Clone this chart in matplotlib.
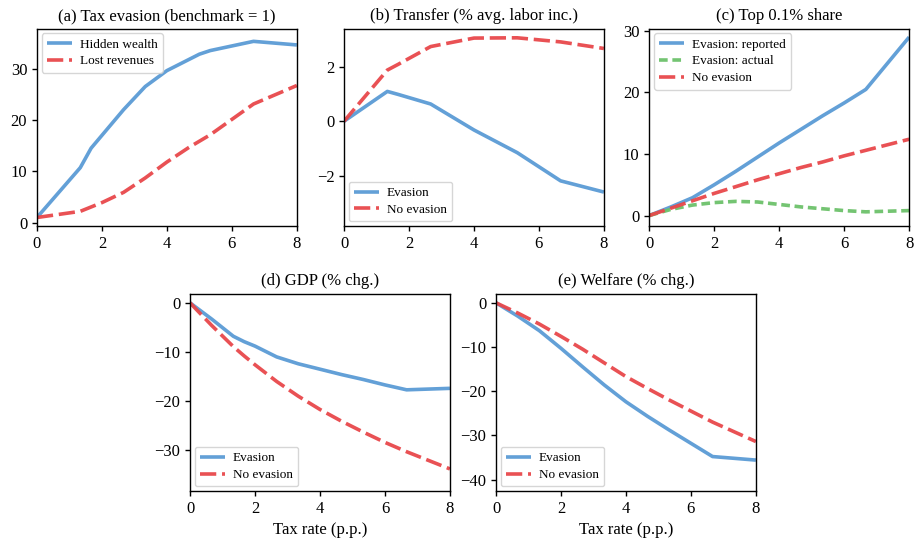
"""
Tax-evasion counterfactuals: five small panels vs. the tax rate (p.p.).
"""
import numpy as np
import matplotlib
matplotlib.use("Agg")
import matplotlib.pyplot as plt

plt.rcParams["font.family"] = ["Liberation Serif", "DejaVu Serif"]
plt.rcParams["font.size"] = 12

BLUE = "#5b9bd5"
RED = "#e8484b"
GREEN = "#6cc16a"

# ── data ──────────────────────────────────────────────────────────────────
# (a) tax evasion, benchmark = 1
x_a = [0, 1.333, 1.667, 2.667, 3.333, 4, 5, 5.333, 6.667, 8]
hidden_wealth = [1.0, 10.7, 14.5, 22.0, 26.5, 29.6, 32.8, 33.5, 35.3, 34.6]
x_a2 = [0, 1.333, 2, 2.667, 3.333, 4, 4.667, 5.333, 6, 6.667, 8]
lost_revenues = [1.0, 2.2, 3.9, 5.9, 8.7, 11.8, 14.6, 17.1, 20.1, 23.1, 26.7]

# (b) transfer, % avg. labor income
x_b = [0, 1.333, 1.667, 2.667, 4, 5.333, 6.667, 8]
transfer_ev = [0.0, 1.09, 0.98, 0.63, -0.32, -1.15, -2.18, -2.59]
transfer_noev = [0.0, 1.87, 2.08, 2.73, 3.04, 3.05, 2.9, 2.66]

# (c) top 0.1% share
x_c = [0, 0.667, 1.333, 2, 2.667, 3.333, 4, 4.667, 5.333, 6, 6.667, 8]
top_reported = [0.0, 1.4, 2.9, 5.0, 7.2, 9.5, 11.8, 14.0, 16.2, 18.3, 20.5, 29.0]
top_actual = [0.0, 1.0, 1.7, 2.1, 2.3, 2.2, 1.8, 1.4, 1.1, 0.8, 0.6, 0.8]
top_noev = [0.0, 1.2, 2.4, 3.6, 4.7, 5.8, 6.8, 7.8, 8.7, 9.7, 10.6, 12.4]

# (d) GDP, % change
x_d = [0, 0.667, 1.333, 1.667, 2, 2.667, 3.333, 4, 4.667, 5.333, 6, 6.667, 8]
gdp_ev = [0.0, -3.3, -6.8, -7.9, -8.8, -11.0, -12.4, -13.5, -14.6, -15.6, -16.7, -17.7, -17.4]
gdp_noev = [0.0, -4.6, -8.9, -10.8, -12.6, -16.0, -19.0, -21.7, -24.1, -26.3, -28.4, -30.3, -33.8]

# (e) welfare, % change
x_e = [0, 0.667, 1.333, 2, 2.667, 3.333, 4, 4.667, 5.333, 6, 6.667, 8]
welf_ev = [0.0, -3.0, -6.3, -10.3, -14.5, -18.6, -22.4, -25.7, -28.8, -31.8, -34.8, -35.6]
welf_noev = [0.0, -2.3, -4.8, -7.6, -10.5, -13.6, -16.7, -19.4, -22.0, -24.5, -27.0, -31.4]

TITLES = ["(a) Tax evasion (benchmark = 1)", "(b) Transfer (% avg. labor inc.)",
          "(c) Top 0.1% share", "(d) GDP (% chg.)", "(e) Welfare (% chg.)"]

SOLID = dict(color=BLUE, lw=2.6, alpha=0.95, solid_capstyle="butt")
DASH = dict(color=RED, lw=2.6, alpha=0.95, ls=(0, (4.5, 1.6)))
DOT = dict(color=GREEN, lw=2.6, alpha=0.95, ls=(0, (2.4, 1.3)))

LEG = dict(fontsize=9.5, labelspacing=0.35, handlelength=1.9, handletextpad=0.6,
           borderpad=0.4, borderaxespad=0.35, edgecolor="0.8")

fig = plt.figure(figsize=(9.15, 5.44), dpi=100)
W, H = 0.284, 0.363
axes = [
    fig.add_axes([0.0404, 0.5846, W, H]),
    fig.add_axes([0.3760, 0.5846, W, H]),
    fig.add_axes([0.7096, 0.5846, W, H]),
    fig.add_axes([0.2077, 0.0974, W, H]),
    fig.add_axes([0.5421, 0.0974, W, H]),
]

ax = axes[0]
ax.plot(x_a, hidden_wealth, label="Hidden wealth", **SOLID)
ax.plot(x_a2, lost_revenues, label="Lost revenues", **DASH)
ax.set_ylim(-0.65, 37.8)
ax.legend(loc="upper left", **LEG)

ax = axes[1]
ax.plot(x_b, transfer_ev, label="Evasion", **SOLID)
ax.plot(x_b, transfer_noev, label="No evasion", **DASH)
ax.set_ylim(-3.83, 3.39)
ax.legend(loc="lower left", **LEG)

ax = axes[2]
ax.plot(x_c, top_reported, label="Evasion: reported", **SOLID)
ax.plot(x_c, top_actual, label="Evasion: actual", **DOT)
ax.plot(x_c, top_noev, label="No evasion", **DASH)
ax.set_ylim(-1.7, 30.4)
ax.legend(loc="upper left", **LEG)

ax = axes[3]
ax.plot(x_d, gdp_ev, label="Evasion", **SOLID)
ax.plot(x_d, gdp_noev, label="No evasion", **DASH)
ax.set_ylim(-38.3, 1.9)
ax.legend(loc="lower left", **LEG)

ax = axes[4]
ax.plot(x_e, welf_ev, label="Evasion", **SOLID)
ax.plot(x_e, welf_noev, label="No evasion", **DASH)
ax.set_ylim(-42.6, 2.1)
ax.legend(loc="lower left", **LEG)

for i, ax in enumerate(axes):
    ax.set_title(TITLES[i], fontsize=12, pad=6)
    ax.set_xlim(0, 8)
    ax.set_xticks([0, 2, 4, 6, 8])
    ax.tick_params(labelsize=12, length=3.5, width=1)
    for s in ax.spines.values():
        s.set_linewidth(1.0)
    if i >= 3:
        ax.set_xlabel("Tax rate (p.p.)", fontsize=12)

fig.savefig("out.png", dpi=100)
